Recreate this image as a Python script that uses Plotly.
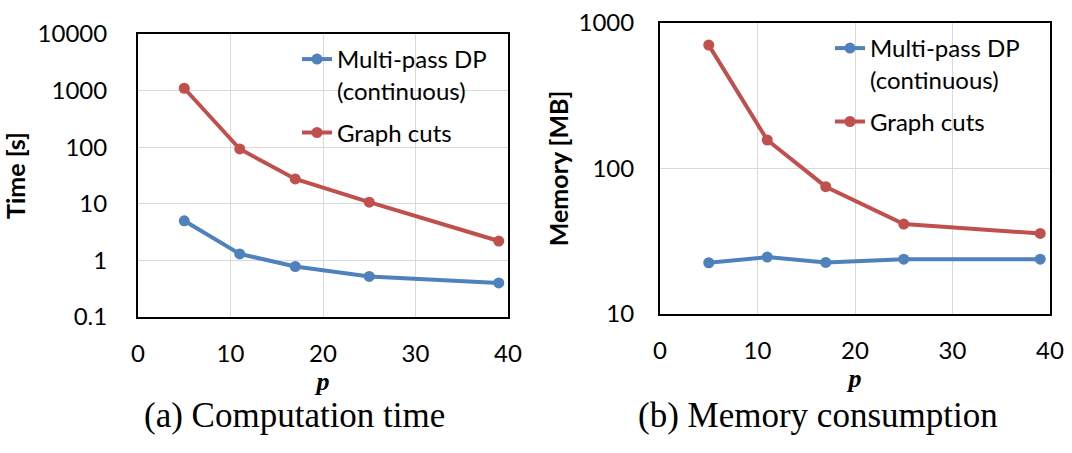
import plotly.graph_objects as go

# ---- data ----
p_vals = [5, 11, 17, 25, 39]
time_dp = [5.0, 1.3, 0.78, 0.52, 0.40]
time_gc = [1100, 93, 27.5, 10.7, 2.2]
mem_dp = [22.5, 24.6, 22.6, 23.8, 23.8]
mem_gc = [705, 157, 75, 41.5, 35.8]

series_names = ["Multi-pass DP<br>(continuous)", "Graph cuts"]
x_ticks = [0, 10, 20, 30, 40]
time_ticks = [0.1, 1, 10, 100, 1000, 10000]
time_tick_text = ["0.1", "1", "10", "100", "1000", "10000"]
mem_ticks = [10, 100, 1000]
mem_tick_text = ["10", "100", "1000"]
captions = ["(a) Computation time", "(b) Memory consumption"]

BLUE = "#4F81BD"
RED = "#C0504D"
SANS = "Lato"
SERIF = "Liberation Serif"

fig = go.Figure()

def add(x, y, name, color, xa, ya, leg, grp):
    fig.add_trace(go.Scatter(
        x=x, y=y, name=name, mode="lines+markers",
        line=dict(color=color, width=4),
        marker=dict(color=color, size=11),
        xaxis=xa, yaxis=ya, legend=leg, legendgroup=grp, cliponaxis=False))

add(p_vals, time_dp, series_names[0], BLUE, "x", "y", "legend", "a_dp")
add(p_vals, time_gc, series_names[1], RED, "x", "y", "legend", "a_gc")
add(p_vals, mem_dp, series_names[0], BLUE, "x2", "y2", "legend2", "b_dp")
add(p_vals, mem_gc, series_names[1], RED, "x2", "y2", "legend2", "b_gc")

W, H = 1072, 453
def dx(a, b):
    return [a / W, b / W]
def dy(top, bottom):
    return [1 - bottom / H, 1 - top / H]

tickfont = dict(family=SANS, size=24, color="#000000")
xcommon = dict(range=[0, 40], tickvals=x_ticks, showgrid=True, gridcolor="#D9D9D9",
               gridwidth=1, zeroline=False, showline=True, linecolor="#000000",
               linewidth=2, mirror=True, ticks="", tickfont=tickfont,
               ticklabelstandoff=14, automargin=False)
ycommon = dict(type="log", showgrid=True, gridcolor="#D9D9D9", gridwidth=1,
               zeroline=False, showline=True, linecolor="#000000", linewidth=2,
               mirror=True, ticks="", tickfont=tickfont, automargin=False)
ptitle = lambda so: dict(text="<b><i>p</i></b>",
                         font=dict(family=SERIF, size=26, color="#000000"), standoff=so)

legcommon = dict(xanchor="left", yanchor="top", bgcolor="rgba(0,0,0,0)", borderwidth=0,
                 valign="top", traceorder="grouped",
                 font=dict(family=SANS, size=24, color="#000000"))

fig.update_layout(
    width=W, height=H,
    margin=dict(l=0, r=0, t=0, b=0, autoexpand=False),
    paper_bgcolor="white", plot_bgcolor="white",
    showlegend=True,
    xaxis=dict(domain=dx(138, 508), anchor="y", title=ptitle(0), **xcommon),
    yaxis=dict(domain=dy(34, 317), anchor="x", range=[-1, 4],
               tickvals=time_ticks, ticktext=time_tick_text,
               ticklabelstandoff=24,
               title=dict(text="<b>Time [s]</b>", font=dict(family=SANS, size=25, color="#000000"),
                          standoff=7),
               **ycommon),
    xaxis2=dict(domain=dx(660, 1050), anchor="y2", title=ptitle(2), **xcommon),
    yaxis2=dict(domain=dy(23, 314), anchor="x2", range=[1, 3],
                tickvals=mem_ticks, ticktext=mem_tick_text,
                ticklabelstandoff=19,
                title=dict(text="<b>Memory [MB]</b>", font=dict(family=SANS, size=25, color="#000000"),
                           standoff=3),
                **ycommon),
    legend=dict(x=297 / W, y=1 - 37 / H, tracegroupgap=8, **legcommon),
    legend2=dict(x=830 / W, y=1 - 26 / H, tracegroupgap=8, **legcommon),
    annotations=[
        dict(text=captions[0], x=294 / W, y=1 - 415 / H, xref="paper", yref="paper",
             showarrow=False, xanchor="center", yanchor="middle",
             font=dict(family=SERIF, size=35, color="#000000")),
        dict(text=captions[1], x=818 / W, y=1 - 415 / H, xref="paper", yref="paper",
             showarrow=False, xanchor="center", yanchor="middle",
             font=dict(family=SERIF, size=35, color="#000000")),
    ],
)

fig.write_html("out.html")
